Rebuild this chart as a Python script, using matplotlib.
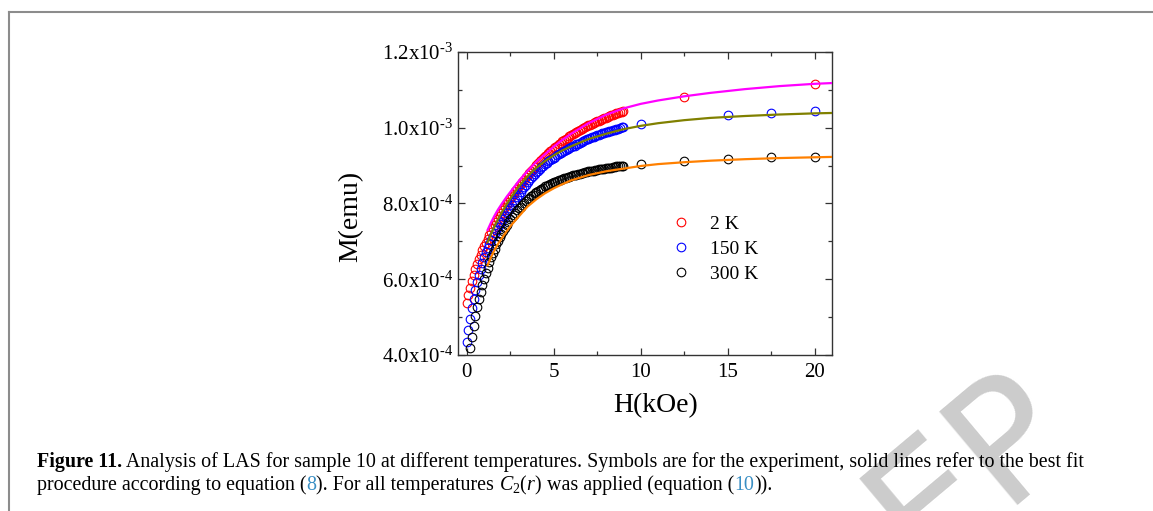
import numpy as np
import matplotlib
matplotlib.use("Agg")
import matplotlib.pyplot as plt
from matplotlib.ticker import MultipleLocator, FuncFormatter
from matplotlib.lines import Line2D

plt.rcParams["font.family"] = "Liberation Serif"
plt.rcParams["mathtext.fontset"] = "custom"
plt.rcParams["mathtext.rm"] = "Liberation Serif"
plt.rcParams["mathtext.it"] = "Liberation Serif:italic"
plt.rcParams["mathtext.bf"] = "Liberation Serif:bold"
plt.rcParams["axes.unicode_minus"] = False

# ---- data (M in units of 1e-4 emu, H in kOe) ----
h_dense = [0.0, 0.1, 0.2, 0.3, 0.4, 0.5, 0.6, 0.7, 0.8, 0.9,
           1.0, 1.1, 1.2, 1.3, 1.4, 1.5, 1.6, 1.7, 1.8, 1.9,
           2.0, 2.1, 2.2, 2.3, 2.4, 2.5, 2.6, 2.7, 2.8, 2.9,
           3.0, 3.1, 3.2, 3.3, 3.4, 3.5, 3.6, 3.7, 3.8, 3.9,
           4.0, 4.1, 4.2, 4.3, 4.4, 4.5, 4.6, 4.7, 4.8, 4.9,
           5.0, 5.1, 5.2, 5.3, 5.4, 5.5, 5.6, 5.7, 5.8, 5.9,
           6.0, 6.1, 6.2, 6.3, 6.4, 6.5, 6.6, 6.7, 6.8, 6.9,
           7.0, 7.1, 7.2, 7.3, 7.4, 7.5, 7.6, 7.7, 7.8, 7.9,
           8.0, 8.1, 8.2, 8.3, 8.4, 8.5, 8.6, 8.7, 8.8, 8.9, 9.0]

m_2k_dense = [5.37, 5.58, 5.77, 5.95, 6.11, 6.26, 6.40, 6.53, 6.65, 6.76,
              6.87, 6.97, 7.07, 7.16, 7.25, 7.34, 7.43, 7.51, 7.59, 7.67,
              7.75, 7.83, 7.90, 7.98, 8.05, 8.12, 8.19, 8.26, 8.32, 8.39,
              8.45, 8.51, 8.57, 8.63, 8.69, 8.75, 8.81, 8.86, 8.92, 8.97,
              9.02, 9.07, 9.12, 9.16, 9.21, 9.25, 9.29, 9.34, 9.38, 9.42,
              9.46, 9.50, 9.53, 9.57, 9.60, 9.64, 9.67, 9.71, 9.74, 9.77,
              9.80, 9.83, 9.86, 9.89, 9.91, 9.94, 9.96, 9.99, 10.01, 10.04,
              10.06, 10.08, 10.11, 10.13, 10.15, 10.17, 10.19, 10.21, 10.23, 10.25,
              10.27, 10.29, 10.31, 10.33, 10.34, 10.36, 10.38, 10.39, 10.41, 10.42, 10.44]

m_150k_dense = [4.34, 4.66, 4.96, 5.23, 5.48, 5.71, 5.92, 6.11, 6.28, 6.44,
                6.58, 6.71, 6.83, 6.94, 7.04, 7.13, 7.22, 7.30, 7.38, 7.45,
                7.52, 7.60, 7.67, 7.75, 7.82, 7.89, 7.96, 8.03, 8.10, 8.17,
                8.23, 8.30, 8.37, 8.43, 8.50, 8.56, 8.62, 8.67, 8.73, 8.78,
                8.83, 8.87, 8.92, 8.96, 9.00, 9.04, 9.08, 9.11, 9.15, 9.18,
                9.21, 9.24, 9.27, 9.30, 9.33, 9.36, 9.39, 9.41, 9.44, 9.46,
                9.49, 9.51, 9.53, 9.56, 9.58, 9.60, 9.62, 9.64, 9.67, 9.69,
                9.71, 9.73, 9.75, 9.76, 9.78, 9.80, 9.82, 9.83, 9.85, 9.86,
                9.88, 9.89, 9.91, 9.92, 9.94, 9.95, 9.96, 9.98, 9.99, 10.01, 10.02]

m_300k_dense = [np.nan, np.nan, 4.18, 4.48, 4.76, 5.02, 5.26, 5.48, 5.67, 5.84,
                6.00, 6.16, 6.31, 6.45, 6.58, 6.70, 6.81, 6.92, 7.02, 7.11,
                7.20, 7.28, 7.36, 7.44, 7.51, 7.58, 7.64, 7.70, 7.76, 7.82,
                7.87, 7.92, 7.97, 8.02, 8.07, 8.11, 8.15, 8.19, 8.23, 8.27,
                8.30, 8.33, 8.36, 8.39, 8.42, 8.45, 8.47, 8.50, 8.52, 8.54,
                8.56, 8.58, 8.60, 8.62, 8.63, 8.65, 8.67, 8.68, 8.70, 8.71,
                8.73, 8.74, 8.75, 8.76, 8.78, 8.79, 8.80, 8.81, 8.82, 8.84,
                8.85, 8.86, 8.86, 8.87, 8.88, 8.89, 8.90, 8.91, 8.91, 8.92,
                8.93, 8.94, 8.95, 8.95, 8.96, 8.97, 8.98, 8.98, 8.99, 8.99, 9.00]

h_2k_high = [12.5, 20.0]
m_2k_high = [10.82, 11.15]
h_150k_high = [10.0, 15.0, 17.5, 20.0]
m_150k_high = [10.10, 10.34, 10.40, 10.43]
h_300k_high = [10.0, 12.5, 15.0, 17.5, 20.0]
m_300k_high = [9.04, 9.13, 9.18, 9.22, 9.24]

# best fit curves
h_fit = [1.2, 1.4, 1.6, 1.8, 2.0, 2.3, 2.6, 3.0, 3.5, 4.0, 4.5, 5.0, 5.5, 6.0,
         7.0, 8.0, 9.0, 10.0, 11.0, 12.5, 14.0, 16.0, 18.0, 20.0, 21.0]
fit_2k = [7.30, 7.50, 7.68, 7.84, 7.98, 8.18, 8.36, 8.60, 8.86, 9.10, 9.30, 9.50, 9.68, 9.84,
          10.12, 10.34, 10.51, 10.63, 10.72, 10.83, 10.92, 11.02, 11.10, 11.16, 11.18]
fit_150k = [6.98, 7.20, 7.40, 7.58, 7.75, 7.98, 8.19, 8.45, 8.72, 8.94, 9.12, 9.27, 9.40, 9.51,
            9.70, 9.84, 9.96, 10.05, 10.12, 10.20, 10.26, 10.31, 10.35, 10.38, 10.39]
fit_300k = [6.37, 6.58, 6.77, 6.93, 7.07, 7.27, 7.45, 7.66, 7.92, 8.11, 8.27, 8.40, 8.51, 8.61,
            8.75, 8.85, 8.92, 8.99, 9.04, 9.09, 9.13, 9.17, 9.20, 9.22, 9.23]

labels = ["2 K", "150 K", "300 K"]
point_colors = ["#ff0000", "#0000ff", "#000000"]
line_colors = ["#ff00ff", "#808000", "#ff8000"]

W, H = 1153, 511
fig = plt.figure(figsize=(W / 100, H / 100), dpi=100)
ax = fig.add_axes([458 / W, (H - 355) / H, 374 / W, 303 / H])

scale = 1e-4
series = [
    (h_dense + h_2k_high, m_2k_dense + m_2k_high),
    (h_dense + h_150k_high, m_150k_dense + m_150k_high),
    (h_dense + h_300k_high, m_300k_dense + m_300k_high),
]
handles = []
for (hx, my), c, lab in zip(series, point_colors, labels):
    hnd, = ax.plot(hx, np.array(my) * scale, linestyle="none", marker="o",
                   markersize=6.2, markerfacecolor="none", markeredgecolor=c,
                   markeredgewidth=0.8, label=lab)
    handles.append(hnd)

for fit, c in zip([fit_2k, fit_150k, fit_300k], line_colors):
    ax.plot(h_fit, np.array(fit) * scale, color=c, lw=1.6, zorder=3)

ax.set_xlim(-0.5, 21)
ax.set_ylim(4e-4, 1.2e-3)
ax.xaxis.set_major_locator(MultipleLocator(5))
ax.xaxis.set_minor_locator(MultipleLocator(2.5))
ax.yaxis.set_major_locator(MultipleLocator(2e-4))
ax.yaxis.set_minor_locator(MultipleLocator(1e-4))


def sci_fmt(v, pos):
    e = int(np.floor(np.log10(v) + 1e-9))
    m = v / 10 ** e
    return rf"$\mathregular{{{m:.1f}x10^{{\text{{-}}{-e}}}}}$"


ax.yaxis.set_major_formatter(FuncFormatter(sci_fmt))
ax.tick_params(which="both", direction="in", top=True, right=True, labelsize=15,
               width=0.9, color="#333333")
ax.tick_params(which="major", length=5)
ax.tick_params(which="minor", length=3)
ax.tick_params(axis="y", pad=3.5)
ax.tick_params(axis="x", pad=6)
for sp in ax.spines.values():
    sp.set_linewidth(1.0)
    sp.set_color("#333333")

ax.set_ylabel("M(emu)", fontsize=20)
ax.yaxis.set_label_coords(-0.254, 0.457)
ax.set_xlabel("H(kOe)", fontsize=20)
ax.xaxis.set_label_coords(0.527, -0.125)

ax.legend(handles=handles, loc="upper left", bbox_to_anchor=(0.57, 0.462),
          frameon=False, fontsize=14, handlelength=1.0, handletextpad=1.0,
          labelspacing=0.38, borderpad=0, borderaxespad=0)

# page frame lines
fig.add_artist(Line2D([9 / W, 9 / W], [0, 1 - 12 / H], transform=fig.transFigure,
                      color="#8c8c8c", lw=1.5))
fig.add_artist(Line2D([9 / W, 1], [1 - 12 / H, 1 - 12 / H], transform=fig.transFigure,
                      color="#8c8c8c", lw=1.5))

# watermark (only partly inside the page)
fig.text(971 / W, 1 - 470 / H, "EP", rotation=40, fontsize=120, color="#cccccc",
         family="DejaVu Sans", ha="center", va="center", rotation_mode="anchor", zorder=0)

# caption
cap_size = 14.4
renderer = fig.canvas.get_renderer()


def caption_line(pieces, x0, y0):
    x = x0
    for s, color, weight in pieces:
        t = fig.text(x / W, 1 - y0 / H, s, color=color, fontsize=cap_size,
                     fontweight=weight, ha="left", va="baseline", zorder=2)
        bb = t.get_window_extent(renderer)
        x = bb.x1


link = "#3a8fc4"
caption_line([("Figure 11.", "black", "bold"),
              (" Analysis of LAS for sample 10 at different temperatures. Symbols are for the "
               "experiment, solid lines refer to the best fit", "black", "normal")], 37, 467)
caption_line([("procedure according to equation (", "black", "normal"),
              ("8", link, "normal"),
              ("). For all temperatures ", "black", "normal"),
              (r"$C_2(r)$", "black", "normal"),
              (" was applied (equation (", "black", "normal"),
              ("10", link, "normal"),
              (")).", "black", "normal")], 37, 490)

fig.savefig("out.png", dpi=100)
